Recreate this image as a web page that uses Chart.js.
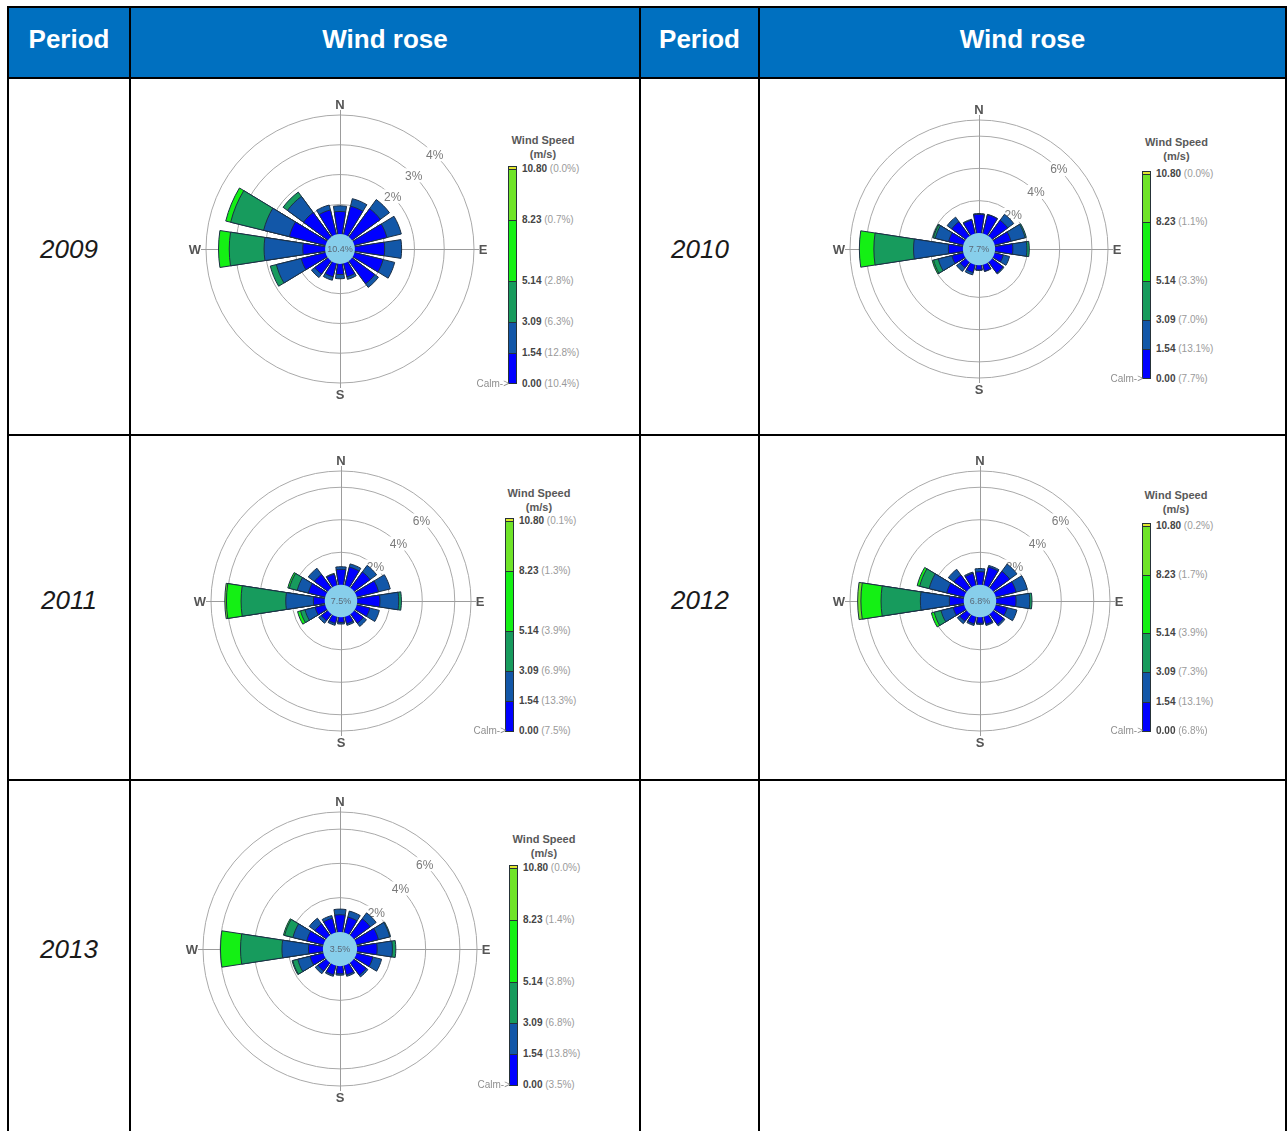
<!DOCTYPE html>
<html lang="en">
<head>
<meta charset="utf-8">
<title>Wind roses 2009–2013</title>
<script src="https://cdn.jsdelivr.net/npm/chart.js@4.4.1/dist/chart.umd.min.js"></script>
<style>
  html, body { margin: 0; padding: 0; background: #fff; }
  body { font-family: Arial, "Liberation Sans", Helvetica, sans-serif; }
  #sheet { position: relative; width: 1288px; height: 1131px; overflow: hidden; }
  #table { position: absolute; left: 7px; top: 6px; display: grid;
    grid-template-columns: 120px 508px 117px 525px;
    grid-template-rows: 69px 355px 343px 360px;
    gap: 2px; padding: 2px; background: #000; }
  #table > div { background: #fff; }
  #table > div.head { background: #0070c0; }
  .txt { position: absolute; white-space: nowrap; transform: translate(-50%, -50%); line-height: 30px; }
  .head-txt { color: #fff; font-weight: bold; font-size: 26px; }
  .year { color: #1a1a1a; font-style: italic; font-size: 26px; }
  canvas.rose { position: absolute; }
  .lg-title { position: absolute; transform: translateX(-50%); text-align: center; font-weight: bold;
    font-size: 11px; line-height: 14px; color: #595959; white-space: nowrap; }
  .lg-seg { position: absolute; box-sizing: border-box; border: 1px solid #263238; width: 9px; }
  .lg-lab { position: absolute; font-size: 10px; line-height: 12px; white-space: nowrap; color: #9a9a9a; }
  .lg-lab b { color: #444; }
  .lg-calm { position: absolute; font-size: 10px; line-height: 12px; color: #8f8f8f; transform: translateX(-100%); white-space: nowrap; }
</style>
</head>
<body>
<div id="sheet">
  <div id="table">
    <div class="head"></div><div class="head"></div><div class="head"></div><div class="head"></div>
    <div></div><div></div><div></div><div></div>
    <div></div><div></div><div></div><div></div>
    <div></div><div></div><div></div><div></div>
  </div>
</div>
<script>
// ---- Wind direction sectors (clockwise from north) and speed classes (m/s) ----
const directions = ['N', 'NNE', 'NE', 'ENE', 'E', 'ESE', 'SE', 'SSE', 'S', 'SSW', 'SW', 'WSW', 'W', 'WNW', 'NW', 'NNW'];
const speedTicks = [0.00, 1.54, 3.09, 5.14, 8.23, 10.80];
const bandNames = ['0.00-1.54', '1.54-3.09', '3.09-5.14', '5.14-8.23', '8.23-10.80'];

// ---- Frequency (%) per direction for each speed class ----
// 2009
const y2009_b0 = [0.76, 0.98, 1.18, 1.12, 1.00, 0.99, 0.95, 0.46, 0.36, 0.46, 0.55, 0.84, 0.75, 1.25, 1.02, 0.85];
const y2009_b1 = [0.19, 0.26, 0.38, 0.50, 0.57, 0.40, 0.15, 0.09, 0.14, 0.12, 0.14, 0.86, 1.30, 0.89, 0.67, 0.17];
const y2009_b2 = [0, 0, 0, 0, 0, 0, 0, 0, 0, 0, 0, 0.21, 1.17, 1.14, 0.18, 0];
const y2009_b3 = [0, 0, 0, 0, 0, 0, 0, 0, 0, 0, 0, 0, 0.36, 0.17, 0, 0];
const y2009_b4 = [0, 0, 0, 0, 0, 0, 0, 0, 0, 0, 0, 0, 0, 0, 0, 0];
// 2010
const y2010_b0 = [1.15, 1.19, 1.21, 1.04, 1.10, 0.55, 0.85, 0.42, 0.30, 0.50, 0.45, 0.73, 0.90, 0.94, 1.10, 0.85];
const y2010_b1 = [0.05, 0.02, 0.46, 0.90, 0.87, 0.40, 0.07, 0.02, 0.03, 0.15, 0.28, 0.87, 2.16, 0.85, 0.35, 0.05];
const y2010_b2 = [0, 0, 0, 0.08, 0.15, 0, 0, 0, 0, 0, 0, 0.30, 2.46, 0.12, 0, 0];
const y2010_b3 = [0, 0, 0, 0, 0, 0, 0, 0, 0, 0, 0, 0.08, 0.90, 0.05, 0, 0];
const y2010_b4 = [0, 0, 0, 0, 0, 0, 0, 0, 0, 0, 0, 0, 0, 0, 0, 0];
// 2011
const y2011_b0 = [0.95, 1.15, 1.22, 1.38, 1.40, 0.83, 0.70, 0.44, 0.32, 0.42, 0.50, 0.64, 0.70, 1.07, 1.03, 0.70];
const y2011_b1 = [0.16, 0.20, 0.50, 0.74, 1.15, 0.60, 0.24, 0.10, 0.10, 0.12, 0.20, 0.64, 1.70, 0.70, 0.47, 0.05];
const y2011_b2 = [0, 0, 0, 0, 0.17, 0, 0, 0, 0, 0, 0, 0.28, 2.75, 0.50, 0, 0];
const y2011_b3 = [0, 0, 0, 0, 0, 0, 0, 0, 0, 0, 0, 0.19, 0.90, 0.10, 0, 0];
const y2011_b4 = [0, 0, 0, 0, 0, 0, 0, 0, 0, 0, 0, 0, 0.10, 0, 0, 0];
// 2012
const y2012_b0 = [0.80, 1.15, 1.27, 1.29, 1.22, 0.72, 0.80, 0.47, 0.37, 0.45, 0.55, 0.70, 0.89, 1.11, 0.99, 0.75];
const y2012_b1 = [0.20, 0.10, 0.55, 0.71, 0.84, 0.62, 0.10, 0.08, 0.07, 0.10, 0.18, 0.77, 1.78, 1.11, 0.43, 0.08];
const y2012_b2 = [0, 0, 0, 0, 0.14, 0, 0, 0, 0, 0, 0, 0.43, 2.42, 0.60, 0, 0];
const y2012_b3 = [0, 0, 0, 0, 0, 0, 0, 0, 0, 0, 0, 0.18, 1.24, 0.16, 0, 0];
const y2012_b4 = [0, 0, 0, 0, 0, 0, 0, 0, 0, 0, 0, 0, 0.20, 0, 0, 0];
// 2013
const y2013_b0 = [1.00, 0.92, 1.19, 1.31, 1.17, 0.98, 0.90, 0.55, 0.45, 0.55, 0.60, 0.80, 0.84, 1.00, 0.82, 0.85];
const y2013_b1 = [0.33, 0.36, 0.43, 0.68, 0.89, 0.52, 0.12, 0.09, 0.08, 0.09, 0.19, 0.74, 1.55, 0.83, 0.41, 0.16];
const y2013_b2 = [0, 0, 0, 0.05, 0.20, 0, 0, 0, 0, 0, 0, 0.30, 2.42, 0.50, 0, 0];
const y2013_b3 = [0, 0, 0, 0, 0, 0, 0, 0, 0, 0, 0, 0.04, 1.17, 0.07, 0, 0];
const y2013_b4 = [0, 0, 0, 0, 0, 0, 0, 0, 0, 0, 0, 0, 0, 0, 0, 0];

// ---- Calm percentage and colour-bar percentages (one per speed tick) ----
const calm = [10.4, 7.7, 7.5, 6.8, 3.5];
const pct2009 = [10.4, 12.8, 6.3, 2.8, 0.7, 0.0];
const pct2010 = [7.7, 13.1, 7.0, 3.3, 1.1, 0.0];
const pct2011 = [7.5, 13.3, 6.9, 3.9, 1.3, 0.1];
const pct2012 = [6.8, 13.1, 7.3, 3.9, 1.7, 0.2];
const pct2013 = [3.5, 13.8, 6.8, 3.8, 1.4, 0.0];

// ---- Radial ring ticks (%) and the outer limit of each rose ----
const rings2009 = [1, 2, 3, 4];
const rings2010to13 = [2, 4, 6];
const yearLabels = ['2009', '2010', '2011', '2012', '2013'];

// ---- Styling ----
const bandColors = ['#0000ff', '#1257a8', '#179b5d', '#14f014', '#6fe428'];
const capColor = '#e2e62e';
const BAR_DEG = 17.5, GAP_DEG = 22.5 - BAR_DEG;
const PAD = 26;

const roses = [
  { label: yearLabels[0], bands: [y2009_b0, y2009_b1, y2009_b2, y2009_b3, y2009_b4], calm: calm[0], pct: pct2009,
    rings: rings2009, min: -0.5, max: 4, cx: 340, cy: 249, R: 134,
    lg: { x: 508, y0: 383.5, k: 19.9, tx: 543, ty: 133 }, yl: [69, 249] },
  { label: yearLabels[1], bands: [y2010_b0, y2010_b1, y2010_b2, y2010_b3, y2010_b4], calm: calm[1], pct: pct2010,
    rings: rings2010to13, min: -1, max: 7, cx: 979, cy: 249, R: 129,
    lg: { x: 1142, y0: 378.5, k: 18.98, tx: 1176.5, ty: 135 }, yl: [700, 249] },
  { label: yearLabels[2], bands: [y2011_b0, y2011_b1, y2011_b2, y2011_b3, y2011_b4], calm: calm[2], pct: pct2011,
    rings: rings2010to13, min: -1, max: 7, cx: 341, cy: 601, R: 130,
    lg: { x: 505, y0: 731, k: 19.44, tx: 539, ty: 486 }, yl: [69, 600] },
  { label: yearLabels[3], bands: [y2012_b0, y2012_b1, y2012_b2, y2012_b3, y2012_b4], calm: calm[3], pct: pct2012,
    rings: rings2010to13, min: -1, max: 7, cx: 980, cy: 601, R: 130,
    lg: { x: 1142, y0: 731, k: 18.98, tx: 1176, ty: 488 }, yl: [700, 600] },
  { label: yearLabels[4], bands: [y2013_b0, y2013_b1, y2013_b2, y2013_b3, y2013_b4], calm: calm[4], pct: pct2013,
    rings: rings2010to13, min: -1, max: 7, cx: 340, cy: 949, R: 137,
    lg: { x: 509, y0: 1085, k: 20.1, tx: 544, ty: 832 }, yl: [69, 949] }
];

const sheet = document.getElementById('sheet');

function addText(text, x, y, cls) {
  const d = document.createElement('div');
  d.className = 'txt ' + cls;
  d.textContent = text;
  d.style.left = x + 'px';
  d.style.top = y + 'px';
  sheet.appendChild(d);
}

// header row
addText('Period', 69, 38.5, 'head-txt');
addText('Wind rose', 385, 38.5, 'head-txt');
addText('Period', 699.5, 38.5, 'head-txt');
addText('Wind rose', 1022.5, 38.5, 'head-txt');

// compass cross, ring labels (under the bars) and calm disc (over the bars)
const roseDecor = {
  id: 'roseDecor',
  beforeDatasetsDraw(chart, args, opts) {
    const s = chart.scales.r;
    const ctx = chart.ctx;
    const cx = s.xCenter, cy = s.yCenter, R = s.drawingArea;
    ctx.save();
    ctx.strokeStyle = '#9c9c9c';
    ctx.lineWidth = 1;
    const ext = R + 5;
    ctx.beginPath();
    ctx.moveTo(Math.round(cx) + 0.5, cy - ext); ctx.lineTo(Math.round(cx) + 0.5, cy + ext);
    ctx.moveTo(cx - ext, Math.round(cy) + 0.5); ctx.lineTo(cx + ext, Math.round(cy) + 0.5);
    ctx.stroke();

    ctx.fillStyle = '#555';
    ctx.font = 'bold 13px Arial, "Liberation Sans", sans-serif';
    ctx.textAlign = 'center';
    ctx.textBaseline = 'middle';
    const d = R + 11;
    [['N', 0, -1, 0], ['E', 1, 0, -2], ['S', 0, 1, 0], ['W', -1, 0, 0]].forEach(([t, dx, dy, adj]) => {
      ctx.fillText(t, cx + dx * (d + adj), cy + dy * d + 1);
    });

    ctx.font = '12px Arial, "Liberation Sans", sans-serif';
    opts.rings.forEach(v => {
      const r = s.getDistanceFromCenterForValue(v);
      const x = cx + r * Math.SQRT1_2, y = cy - r * Math.SQRT1_2;
      const t = v + '%';
      const w = ctx.measureText(t).width;
      ctx.fillStyle = '#fff';
      ctx.fillRect(x - w / 2 - 2, y - 7, w + 4, 14);
      ctx.fillStyle = '#7a7a7a';
      ctx.fillText(t, x, y + 1);
    });
    ctx.restore();
  },
  afterDatasetsDraw(chart, args, opts) {
    const s = chart.scales.r;
    const ctx = chart.ctx;
    const r0 = s.getDistanceFromCenterForValue(0);
    ctx.save();
    ctx.beginPath();
    ctx.arc(s.xCenter, s.yCenter, r0, 0, Math.PI * 2);
    ctx.fillStyle = '#87ceeb';
    ctx.fill();
    ctx.fillStyle = '#5a6978';
    ctx.font = '9px Arial, "Liberation Sans", sans-serif';
    ctx.textAlign = 'center';
    ctx.textBaseline = 'middle';
    ctx.fillText(opts.calm.toFixed(1) + '%', s.xCenter, s.yCenter + 1);
    ctx.restore();
  }
};

// stacked bands: each dataset holds the running total up to its speed class,
// dataset 0 is painted last so the inner classes sit on top
function roseDatasets(bands) {
  const acc = directions.map(() => 0);
  return bands.map((band, k) => {
    const data = [], angle = [];
    band.forEach((v, i) => {
      acc[i] += v;
      data.push(+acc[i].toFixed(3));
      data.push(null);
      angle.push(BAR_DEG, GAP_DEG);
    });
    const shown = ctx => ctx.index % 2 === 0 && band[ctx.index / 2] > 0;
    return {
      label: bandNames[k],
      data,
      angle,
      backgroundColor: ctx => shown(ctx) ? bandColors[k] : 'rgba(0,0,0,0)',
      borderColor: '#1b2f45',
      borderWidth: ctx => shown(ctx) ? 1 : 0
    };
  });
}

const sectorLabels = [];
directions.forEach(d => sectorLabels.push(d, ''));

function drawLegend(rose) {
  const { x, y0, k, tx, ty } = rose.lg;
  const title = document.createElement('div');
  title.className = 'lg-title';
  title.style.left = tx + 'px';
  title.style.top = ty + 'px';
  title.innerHTML = 'Wind Speed<br>(m/s)';
  sheet.appendChild(title);

  const seg = (top, h, color) => {
    const s = document.createElement('div');
    s.className = 'lg-seg';
    s.style.left = x + 'px';
    s.style.top = top + 'px';
    s.style.height = h + 'px';
    s.style.background = color;
    sheet.appendChild(s);
  };
  const topY = y0 - speedTicks[speedTicks.length - 1] * k;
  seg(topY - 3, 4, capColor);
  for (let i = 0; i < speedTicks.length - 1; i++) {
    const a = y0 - speedTicks[i + 1] * k;
    const b = y0 - speedTicks[i] * k;
    seg(a, b - a + 1, bandColors[i]);
  }
  speedTicks.forEach((v, i) => {
    const l = document.createElement('div');
    l.className = 'lg-lab';
    l.style.left = (x + 14) + 'px';
    l.style.top = (y0 - v * k - 6) + 'px';
    l.innerHTML = '<b>' + v.toFixed(2) + '</b> (' + rose.pct[i].toFixed(1) + '%)';
    sheet.appendChild(l);
  });
  const c = document.createElement('div');
  c.className = 'lg-calm';
  c.style.left = (x + 1) + 'px';
  c.style.top = (y0 - 6) + 'px';
  c.textContent = 'Calm->';
  sheet.appendChild(c);
}

roses.forEach(rose => {
  addText(rose.label, rose.yl[0], rose.yl[1], 'year');

  const size = 2 * (rose.R + PAD);
  const cv = document.createElement('canvas');
  cv.className = 'rose';
  cv.width = size;
  cv.height = size;
  cv.style.width = size + 'px';
  cv.style.height = size + 'px';
  cv.style.left = (rose.cx - rose.R - PAD) + 'px';
  cv.style.top = (rose.cy - rose.R - PAD) + 'px';
  sheet.appendChild(cv);

  const tickList = rose.rings.includes(rose.max) ? rose.rings.slice() : rose.rings.concat([rose.max]);

  new Chart(cv, {
    type: 'polarArea',
    data: { labels: sectorLabels, datasets: roseDatasets(rose.bands) },
    options: {
      responsive: false,
      animation: false,
      devicePixelRatio: 1,
      events: [],
      layout: { padding: PAD },
      plugins: {
        legend: { display: false },
        tooltip: { enabled: false },
        roseDecor: { rings: rose.rings, calm: rose.calm }
      },
      scales: {
        r: {
          min: rose.min,
          max: rose.max,
          beginAtZero: false,
          startAngle: -BAR_DEG / 2,
          ticks: { display: false },
          grid: { circular: true, color: '#a9a9a9', lineWidth: 1 },
          angleLines: { display: false },
          pointLabels: { display: false },
          afterBuildTicks: scale => { scale.ticks = tickList.map(v => ({ value: v })); }
        }
      }
    },
    plugins: [roseDecor]
  });

  drawLegend(rose);
});
</script>
</body>
</html>
